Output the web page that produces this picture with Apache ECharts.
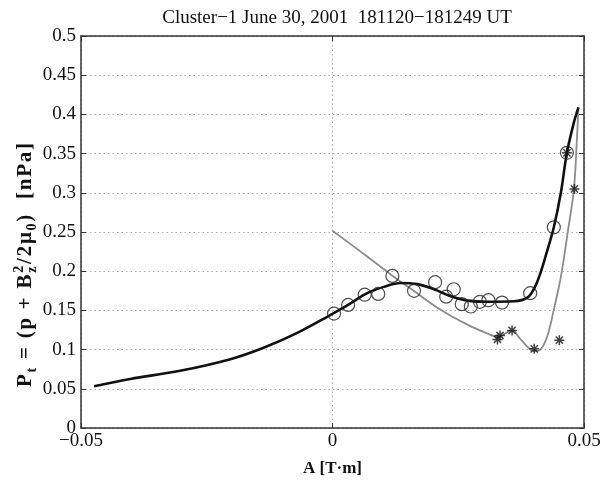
<!DOCTYPE html>
<html>
<head>
<meta charset="utf-8">
<script src="https://cdn.jsdelivr.net/npm/echarts@6/dist/echarts.min.js"></script>
<style>
html,body{margin:0;padding:0;background:#fff;}
#c{width:609px;height:482px;}
</style>
</head>
<body>
<div id="c"></div>
<script>
// ---- data ----
const titleText = 'Cluster\u22121 June 30, 2001  181120\u2212181249 UT';
const xTickValues = [-0.05, 0, 0.05];
const xTickLabels = ['\u22120.05', '0', '0.05'];
const yTickValues = [0, 0.05, 0.1, 0.15, 0.2, 0.25, 0.3, 0.35, 0.4, 0.45, 0.5];
const yTickLabels = ['0', '0.05', '0.1', '0.15', '0.2', '0.25', '0.3', '0.35', '0.4', '0.45', '0.5'];

// black fitted curve
const blackX = [-0.0474, -0.0402, -0.0303, -0.0203, -0.0137, -0.007, 0, 0.0031, 0.0069, 0.0102, 0.0135, 0.0169, 0.0202, 0.0235, 0.0268, 0.0308, 0.0361, 0.0388, 0.0401, 0.0412, 0.0425, 0.044, 0.0454, 0.0466, 0.048, 0.0489];
const blackY = [0.0533, 0.0626, 0.073, 0.0878, 0.1024, 0.1213, 0.1457, 0.157, 0.172, 0.180, 0.185, 0.1835, 0.177, 0.168, 0.1625, 0.161, 0.1616, 0.1666, 0.178, 0.195, 0.222, 0.256, 0.300, 0.351, 0.390, 0.409];

// gray curve
const grayX = [0, 0.0069, 0.0119, 0.0162, 0.0215, 0.0268, 0.0308, 0.0328, 0.0357, 0.0374, 0.0401, 0.0414, 0.0427, 0.044, 0.0454, 0.0467, 0.048, 0.0486, 0.0489];
const grayY = [0.2515, 0.2188, 0.1943, 0.1747, 0.1507, 0.1318, 0.1205, 0.1163, 0.1245, 0.113, 0.0982, 0.1004, 0.117, 0.151, 0.1927, 0.247, 0.305, 0.37, 0.409];

// open circles
const circX = [0.0003, 0.0031, 0.0064, 0.0091, 0.0119, 0.0162, 0.0204, 0.0226, 0.0241, 0.0257, 0.0275, 0.0293, 0.031, 0.0337, 0.0393, 0.0440, 0.0466];
const circY = [0.146, 0.157, 0.170, 0.171, 0.194, 0.175, 0.186, 0.1675, 0.177, 0.158, 0.155, 0.161, 0.163, 0.160, 0.172, 0.256, 0.351];

// asterisks
const starX = [0.0328, 0.0333, 0.0357, 0.0401, 0.0451, 0.0481, 0.0466];
const starY = [0.113, 0.118, 0.1245, 0.101, 0.112, 0.305, 0.351];

const zip = (a, b) => a.map((v, i) => [v, b[i]]);

// ---- chart ----
const chart = echarts.init(document.getElementById('c'), null, {renderer: 'canvas'});
const serif = '"Liberation Serif", "Times New Roman", serif';
const axisColor = '#333';
const textColor = '#111';

// y-axis label with sub/superscripts, built from measured pieces
const cnv = document.createElement('canvas');
const ctx = cnv.getContext('2d');
const mainFont = 'bold 21px "Liberation Serif"';
const smallFont = 'bold 14px "Liberation Serif"';
function tw(t, f) { ctx.font = f; return ctx.measureText(t).width; }
const pieces = [
  {t: 'P', f: mainFont, dy: 0},
  {t: 't', f: smallFont, dy: 6},
  {t: ' ', f: mainFont, dy: 0},
  {t: '=', f: mainFont, dy: 0},
  {t: ' ', f: mainFont, dy: 0},
  {t: '(', f: mainFont, dy: 0},
  {t: 'p', f: mainFont, dy: 0},
  {t: ' ', f: mainFont, dy: 0},
  {t: '+', f: mainFont, dy: 0},
  {t: ' ', f: mainFont, dy: 0},
  {t: 'B', f: mainFont, dy: 0},
  {t: '2', f: smallFont, dy: -7, stackWith: 'z'},
  {t: '/', f: mainFont, dy: 0},
  {t: '2', f: mainFont, dy: 0},
  {t: '\u03bc', f: mainFont, dy: 0},
  {t: '0', f: smallFont, dy: 6},
  {t: ')', f: mainFont, dy: 0},
  {t: ' ', f: mainFont, dy: 0},
  {t: ' ', f: mainFont, dy: 0},
  {t: '[', f: mainFont, dy: 0},
  {t: 'n', f: mainFont, dy: 0},
  {t: 'P', f: mainFont, dy: 0},
  {t: 'a', f: mainFont, dy: 0},
  {t: ']', f: mainFont, dy: 0}
];
const widths = pieces.map(p => p.stackWith ? Math.max(tw(p.t, p.f), tw(p.stackWith, p.f)) : tw(p.t, p.f));
const natural = widths.reduce((a, b) => a + b, 0);
const targetLen = 244;
const gap = Math.max(0, Math.min(2.5, (targetLen - natural) / (pieces.length - 1)));
const labelChildren = [];
let adv = 0;
pieces.forEach((p, i) => {
  if (p.t.trim() !== '') {
    labelChildren.push({type: 'text', x: adv, y: p.dy, style: {text: p.t, font: p.f, fill: textColor, align: 'left', verticalAlign: 'middle'}});
  }
  if (p.stackWith) {
    labelChildren.push({type: 'text', x: adv, y: 6, style: {text: p.stackWith, font: p.f, fill: textColor, align: 'left', verticalAlign: 'middle'}});
  }
  adv += widths[i] + gap;
});
const labelBottom = 387;

const starPath = 'path://M0,-5L0,5M-5,0L5,0M-3.6,-3.6L3.6,3.6M-3.6,3.6L3.6,-3.6';

const option = {
  animation: false,
  backgroundColor: '#fff',
  title: {
    text: titleText,
    left: 332, top: 4, textAlign: 'center',
    textStyle: {fontFamily: serif, fontSize: 19, fontWeight: 'normal', color: textColor}
  },
  grid: {left: 81, right: 25, top: 36, bottom: 49, containLabel: false},
  xAxis: [{
    type: 'value', min: -0.05, max: 0.05, interval: 0.05,
    name: 'A [T\u00b7m]', nameLocation: 'middle', nameGap: 32,
    nameTextStyle: {fontFamily: serif, fontSize: 17, fontWeight: 'bold', color: textColor},
    axisLine: {show: true, onZero: false, lineStyle: {color: axisColor, width: 1.5}},
    axisTick: {show: true, inside: true, length: 5, lineStyle: {color: axisColor}},
    axisLabel: {fontFamily: serif, fontSize: 19, color: textColor, margin: 4,
      formatter: v => { const i = xTickValues.findIndex(t => Math.abs(t - v) < 1e-9); return i >= 0 ? xTickLabels[i] : ''; }},
    splitLine: {show: true, lineStyle: {color: '#aaa', type: [1.5, 3], width: 1}}
  }, {
    type: 'value', position: 'top', min: -0.05, max: 0.05, interval: 0.05,
    axisLine: {show: true, onZero: false, lineStyle: {color: axisColor, width: 1.5}},
    axisTick: {show: true, inside: true, length: 5, lineStyle: {color: axisColor}},
    axisLabel: {show: false}, splitLine: {show: false}
  }],
  yAxis: [{
    type: 'value', min: 0, max: 0.5, interval: 0.05,
    axisLine: {show: true, onZero: false, lineStyle: {color: axisColor, width: 1.5}},
    axisTick: {show: true, inside: true, length: 5, lineStyle: {color: axisColor}},
    axisLabel: {fontFamily: serif, fontSize: 19, color: textColor, margin: 5,
      formatter: v => { const i = yTickValues.findIndex(t => Math.abs(t - v) < 1e-9); return i >= 0 ? yTickLabels[i] : ''; }},
    splitLine: {show: true, lineStyle: {color: '#aaa', type: [1.5, 3], width: 1}}
  }, {
    type: 'value', position: 'right', min: 0, max: 0.5, interval: 0.05,
    axisLine: {show: true, onZero: false, lineStyle: {color: axisColor, width: 1.5}},
    axisTick: {show: true, inside: true, length: 5, lineStyle: {color: axisColor}},
    axisLabel: {show: false}, splitLine: {show: false}
  }],
  graphic: [{
    type: 'group', x: 26, y: labelBottom, rotation: Math.PI / 2,
    children: labelChildren
  }],
  series: [{
    type: 'line', data: zip(grayX, grayY), smooth: 0.35, showSymbol: false, symbol: 'none',
    lineStyle: {color: '#8c8c8c', width: 1.8}, z: 2
  }, {
    type: 'line', data: zip(blackX, blackY), smooth: 0.35, showSymbol: false, symbol: 'none',
    lineStyle: {color: '#111', width: 2.6}, z: 3
  }, {
    type: 'scatter', data: zip(circX, circY), symbol: 'circle', symbolSize: 13,
    itemStyle: {color: 'rgba(0,0,0,0)', borderColor: '#222', borderWidth: 1.2}, z: 4
  }, {
    type: 'scatter', data: zip(starX, starY), symbol: starPath, symbolSize: 10,
    itemStyle: {color: 'rgba(0,0,0,0)', borderColor: '#111', borderWidth: 1.5}, z: 5
  }]
};
chart.setOption(option);
</script>
</body>
</html>
